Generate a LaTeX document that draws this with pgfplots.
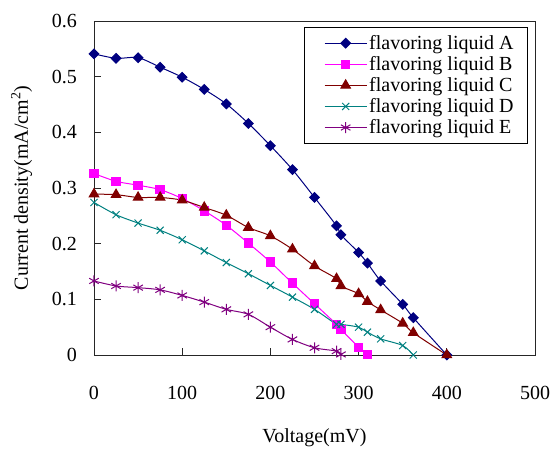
\documentclass[border=0pt]{standalone}
\usepackage{fontspec}
\setmainfont{Liberation Serif}
\usepackage{pgfplots}
\pgfplotsset{compat=1.18}
\definecolor{cA}{RGB}{0,0,128}
\definecolor{cB}{RGB}{255,0,255}
\definecolor{cC}{RGB}{128,0,0}
\definecolor{cD}{RGB}{0,128,128}
\definecolor{cE}{RGB}{128,0,128}
\begin{document}
\begin{tikzpicture}
  % current density vs voltage, five flavoring liquids
  \begin{axis}[
      scale only axis,
      width=441pt, height=334pt,
      xmin=0, xmax=500, ymin=0, ymax=0.6,
      xtick={0,100,...,500},
      ytick={0,0.1,...,0.6},
      yticklabels={0,0.1,0.2,0.3,0.4,0.5,0.6},
      tick align=inside,
      xtick pos=bottom, ytick pos=left,
      major tick length=7pt,
      axis line style={line width=0.9pt, black!85},
      every tick/.style={line width=0.9pt, black!85},
      /pgf/number format/assume math mode=true,
      tick label style={font=\fontsize{20}{24}\selectfont},
      xticklabel style={yshift=-28pt},
      yticklabel style={xshift=-13.5pt},
      label style={font=\fontsize{20}{24}\selectfont},
      xlabel={Voltage(mV)},
      ylabel={Current density(mA/cm\textsuperscript{2})},
      xlabel style={yshift=-22pt},
      ylabel style={yshift=13pt},
      legend cell align=left,
      legend style={at={(1,1)}, anchor=north east, xshift=-7pt, yshift=-6pt,
        font=\fontsize{20}{23}\selectfont, draw=black, line width=0.8pt,
        row sep=1.5pt, inner xsep=12pt, inner ysep=6pt},
      legend image code/.code={\path (-8pt,0pt);
        \draw[#1, mark repeat=2, mark phase=2]
        plot coordinates {(0pt,0pt) (21pt,0pt) (42pt,0pt)};},
      every axis plot/.append style={line width=1pt, smooth, tension=0.5},
    ]
    \addplot[cA, mark=square*, mark size=3.4pt, mark options={rotate=45, solid}]
      coordinates {
        (0,0.541) (25,0.533) (50,0.534) (75,0.517) (100,0.499)
        (125,0.477) (150,0.451) (175,0.416) (200,0.376) (225,0.333)
        (250,0.283) (275,0.232) (280,0.216) (300,0.184) (310,0.165)
        (325,0.133) (350,0.091) (362,0.067) (400,0)
      };
    \addlegendentry{flavoring liquid A}
    \addplot[cB, mark=square*, mark size=4.2pt]
      coordinates {
        (0,0.326) (25,0.312) (50,0.305) (75,0.297) (100,0.281)
        (125,0.259) (150,0.233) (175,0.201) (200,0.167) (225,0.129)
        (250,0.092) (275,0.055) (280,0.046) (300,0.014) (310,0.001)
      };
    \addlegendentry{flavoring liquid B}
    \addplot[cC, mark=triangle*, mark size=5.5pt]
      coordinates {
        (0,0.289) (25,0.288) (50,0.283) (75,0.283) (100,0.278)
        (125,0.265) (150,0.251) (175,0.229) (200,0.214) (225,0.190)
        (250,0.160) (275,0.137) (280,0.124) (300,0.110) (310,0.096)
        (325,0.081) (350,0.057) (362,0.040) (400,0)
      };
    \addlegendentry{flavoring liquid C}
    \addplot[cD, mark=x, mark size=5pt]
      coordinates {
        (0,0.274) (25,0.252) (50,0.237) (75,0.224) (100,0.207)
        (125,0.187) (150,0.166) (175,0.146) (200,0.125) (225,0.104)
        (250,0.082) (275,0.055) (280,0.055) (300,0.050) (310,0.041)
        (325,0.029) (350,0.017) (362,0)
      };
    \addlegendentry{flavoring liquid D}
    \addplot[cE, mark=asterisk, mark size=5.5pt]
      coordinates {
        (0,0.133) (25,0.124) (50,0.121) (75,0.117) (100,0.107)
        (125,0.095) (150,0.082) (175,0.073) (200,0.050) (225,0.028)
        (250,0.013) (275,0.007) (280,0.001)
      };
    \addlegendentry{flavoring liquid E}
  \end{axis}
  % outer margins as in the reference
  \path (current axis.south west) ++(-94pt,-88pt);
  \path (current axis.north east) ++(20pt,21pt);
\end{tikzpicture}
\end{document}
